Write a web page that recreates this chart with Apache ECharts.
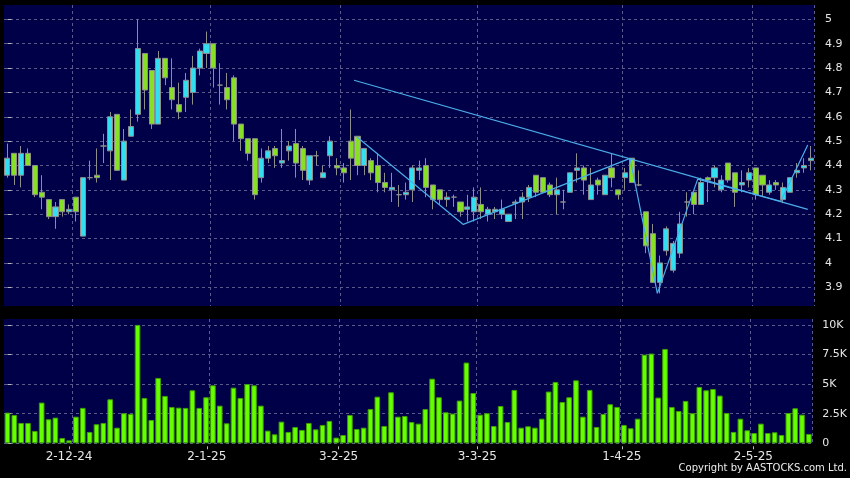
<!DOCTYPE html>
<html><head><meta charset="utf-8">
<script src="https://cdn.jsdelivr.net/npm/echarts@6/dist/echarts.min.js"></script>
<style>html,body{margin:0;padding:0;background:#000;}#c{width:850px;height:478px;}</style>
</head><body><div id="c"></div>
<script>
const opens = [4.36,4.45,4.36,4.45,4.40,4.29,4.26,4.19,4.26,4.21,
4.27,4.11,4.35,4.36,4.48,4.46,4.61,4.34,4.52,4.61,
4.86,4.79,4.57,4.84,4.72,4.65,4.68,4.70,4.80,4.86,
4.90,4.73,4.72,4.76,4.57,4.51,4.51,4.35,4.43,4.47,
4.41,4.46,4.49,4.47,4.34,4.44,4.35,4.44,4.40,4.39,
4.50,4.52,4.40,4.42,4.40,4.33,4.30,4.28,4.28,4.30,
4.38,4.40,4.32,4.30,4.26,4.27,4.25,4.22,4.21,4.24,
4.20,4.21,4.20,4.17,4.245,4.25,4.27,4.36,4.35,4.32,
4.28,4.25,4.29,4.38,4.39,4.26,4.34,4.28,4.39,4.30,
4.35,4.43,4.32,4.21,4.12,3.92,4.05,3.97,4.04,4.25,
4.29,4.24,4.35,4.35,4.30,4.41,4.37,4.32,4.34,4.39,
4.36,4.29,4.33,4.26,4.29,4.37,4.39,4.42];
const closes = [4.43,4.36,4.45,4.40,4.28,4.27,4.19,4.23,4.21,4.22,
4.21,4.35,4.35,4.35,4.48,4.60,4.38,4.50,4.56,4.88,
4.71,4.57,4.84,4.76,4.67,4.62,4.75,4.80,4.87,4.90,
4.80,4.73,4.67,4.57,4.51,4.45,4.28,4.43,4.46,4.44,
4.42,4.48,4.41,4.38,4.44,4.44,4.37,4.50,4.39,4.37,
4.43,4.40,4.47,4.37,4.33,4.31,4.31,4.28,4.29,4.39,
4.39,4.31,4.26,4.26,4.27,4.27,4.21,4.23,4.27,4.21,
4.22,4.22,4.22,4.20,4.25,4.27,4.31,4.29,4.29,4.28,
4.30,4.25,4.37,4.39,4.34,4.32,4.32,4.36,4.35,4.28,
4.37,4.33,4.32,4.07,3.92,4.00,4.14,4.08,4.16,4.25,
4.24,4.33,4.34,4.39,4.34,4.34,4.29,4.33,4.37,4.28,
4.32,4.32,4.32,4.31,4.35,4.38,4.40,4.43];
const lows = [4.35,4.32,4.31,4.40,4.27,4.22,4.18,4.14,4.19,4.20,
4.17,4.11,4.34,4.33,4.41,4.34,4.38,4.34,4.52,4.58,
4.63,4.55,4.57,4.73,4.63,4.59,4.62,4.65,4.77,4.80,
4.72,4.65,4.63,4.50,4.46,4.42,4.26,4.33,4.41,4.39,
4.39,4.42,4.35,4.34,4.32,4.40,4.35,4.39,4.36,4.33,
4.34,4.36,4.36,4.34,4.29,4.29,4.25,4.23,4.26,4.25,
4.34,4.27,4.22,4.24,4.23,4.23,4.19,4.17,4.17,4.18,
4.17,4.18,4.18,4.17,4.18,4.18,4.25,4.27,4.29,4.27,
4.20,4.22,4.29,4.33,4.28,4.26,4.28,4.28,4.31,4.26,
4.30,4.33,4.315,4.04,3.92,3.875,4.03,3.96,4.02,4.19,
4.20,4.24,4.25,4.31,4.29,4.33,4.23,4.29,4.31,4.26,
4.27,4.28,4.30,4.245,4.29,4.35,4.37,4.38];
const highs = [4.49,4.45,4.48,4.47,4.40,4.36,4.26,4.25,4.26,4.24,
4.27,4.35,4.42,4.47,4.53,4.62,4.61,4.55,4.63,5.00,
4.86,4.79,4.87,4.84,4.84,4.74,4.78,4.85,4.88,4.95,
4.90,4.82,4.78,4.77,4.57,4.51,4.51,4.47,4.48,4.48,
4.55,4.50,4.55,4.48,4.44,4.46,4.40,4.52,4.43,4.41,
4.63,4.52,4.47,4.43,4.45,4.37,4.37,4.32,4.33,4.40,
4.42,4.43,4.32,4.30,4.29,4.28,4.25,4.28,4.31,4.31,
4.23,4.23,4.26,4.20,4.26,4.29,4.32,4.36,4.35,4.33,
4.35,4.30,4.37,4.45,4.40,4.39,4.35,4.36,4.45,4.30,
4.39,4.43,4.38,4.21,4.16,4.03,4.15,4.09,4.21,4.29,
4.29,4.35,4.355,4.40,4.36,4.41,4.37,4.38,4.39,4.39,
4.36,4.34,4.34,4.33,4.35,4.41,4.43,4.48];
const volumes = [2590,2390,1720,1720,1040,3440,2030,2170,450,250,
2250,2990,960,1610,1720,3720,1320,2540,2480,10000,
3830,1970,5520,4000,3070,3010,2990,4480,2990,3890,
4900,3180,1690,4700,3830,5010,4900,3180,1070,760,
1830,960,1380,1130,1720,1180,1550,1890,480,700,
2390,1210,1320,2900,3940,1460,4310,2250,2310,1800,
1660,2900,5460,3890,2620,2510,3610,6820,4250,2420,
2540,1460,3150,1800,4510,1320,1440,1320,2080,4370,
5180,3490,3890,5320,2250,4510,1380,2480,3300,3070,
1550,1270,2080,7490,7580,3860,7970,3070,2730,3580,
2540,4760,4480,4590,4030,2560,960,2080,1100,870,
1660,870,930,700,2560,2960,2420,790];
const dateLabels = ['2-12-24','2-1-25','3-2-25','3-3-25','1-4-25','2-5-25'];
const dateLabelPos = [9.0, 29.1, 48.35, 68.6, 89.7, 108.9];
const dateGridIdx = [10, 30, 49, 69, 90, 109];
const priceTicks = [3.9,4.0,4.1,4.2,4.3,4.4,4.5,4.6,4.7,4.8,4.9,5.0];
const volumeTicks = [0,2500,5000,7500,10000];
const trendLine = [[50.49,4.750],[116.59,4.220]];
const zigzag = [[50.88,4.518],[66.41,4.158],[90.7,4.429],[94.68,3.875],[100.56,4.344],[112.65,4.253],[116.59,4.484]];

const categories = opens.map((_, i) => String(i));
const candleData = opens.map((o, i) => [o, closes[i], lows[i], highs[i]]);

const FONT = 'DejaVu Sans';
const gridLineStyle = { color: '#5a5a8c', width: 1, type: [3, 3] };
const chart = echarts.init(document.getElementById('c'), null, { renderer: 'canvas' });
chart.setOption({
  animation: false,
  backgroundColor: '#000',
  grid: [
    { left: 4, top: 5, width: 810, height: 301, show: true, backgroundColor: '#000048', borderWidth: 0 },
    { left: 4, top: 319, width: 810, height: 124.3, show: true, backgroundColor: '#000048', borderWidth: 0 }
  ],
  xAxis: [
    { type: 'category', gridIndex: 0, data: categories, boundaryGap: true,
      axisLine: { show: false }, axisTick: { show: false }, axisLabel: { show: false },
      splitLine: { show: true, interval: (i) => dateGridIdx.includes(i), lineStyle: gridLineStyle } },
    { type: 'category', gridIndex: 1, data: categories, boundaryGap: true,
      axisLine: { show: false }, axisTick: { show: false }, axisLabel: { show: false },
      splitLine: { show: true, interval: (i) => dateGridIdx.includes(i), lineStyle: gridLineStyle } },
    { type: 'value', gridIndex: 0, min: -0.5, max: 117.5, show: false },
    { type: 'value', gridIndex: 1, min: -0.5, max: 117.5, position: 'bottom', offset: 3,
      axisLine: { show: false },
      axisTick: { show: true, length: 3, customValues: dateLabelPos, lineStyle: { color: '#bbbbbb' } },
      axisLabel: { show: true, customValues: dateLabelPos, margin: 5, color: '#e6e6e6', fontFamily: FONT, fontSize: 12,
        formatter: (v) => { const k = dateLabelPos.findIndex(p => Math.abs(p - v) < 1e-6); return k >= 0 ? dateLabels[k] : ''; } },
      splitLine: { show: false } }
  ],
  yAxis: [
    { type: 'value', gridIndex: 0, position: 'right', min: 3.823, max: 5.059, offset: 3,
      axisLine: { show: false },
      axisTick: { show: true, length: 4, customValues: priceTicks, lineStyle: { color: '#bbbbbb' } },
      axisLabel: { customValues: priceTicks, margin: 8, color: '#e6e6e6', fontFamily: FONT, fontSize: 11,
        formatter: (v) => String(Math.round(v * 10) / 10) },
      splitLine: { show: true, lineStyle: gridLineStyle } },
    { type: 'value', gridIndex: 1, position: 'right', min: 0, max: 10500, offset: 3,
      axisLine: { show: false },
      axisTick: { show: true, length: 4, customValues: volumeTicks, lineStyle: { color: '#bbbbbb' } },
      axisLabel: { customValues: volumeTicks, margin: 7, color: '#e6e6e6', fontFamily: FONT, fontSize: 11,
        formatter: (v) => v === 0 ? '0' : (v / 1000) + 'K' },
      splitLine: { show: true, lineStyle: gridLineStyle } }
  ],
  series: [
    { type: 'candlestick', xAxisIndex: 0, yAxisIndex: 0, data: candleData, barWidth: 5.6,
      itemStyle: { color: '#33def0', color0: '#88e026', borderColor: '#8e8e8e', borderColor0: '#8e8e8e', borderColorDoji: '#8e8e8e', borderWidth: 1 } },
    { type: 'bar', xAxisIndex: 1, yAxisIndex: 1, data: volumes, barWidth: 5.6,
      itemStyle: { color: '#66ff00', borderColor: '#3f9f00', borderWidth: 1 } },
    { type: 'line', xAxisIndex: 2, yAxisIndex: 0, data: trendLine, symbol: 'none', z: 5,
      lineStyle: { color: '#4aaeea', width: 1.2 } },
    { type: 'line', xAxisIndex: 2, yAxisIndex: 0, data: zigzag, symbol: 'none', z: 5,
      lineStyle: { color: '#4aaeea', width: 1.2 } }
  ],
  graphic: [
    { type: 'text', right: 3, top: 463, style: { text: 'Copyright by AASTOCKS.com Ltd.', fill: '#eeeeee', font: '10px "DejaVu Sans"' } }
  ]
});
</script></body></html>
